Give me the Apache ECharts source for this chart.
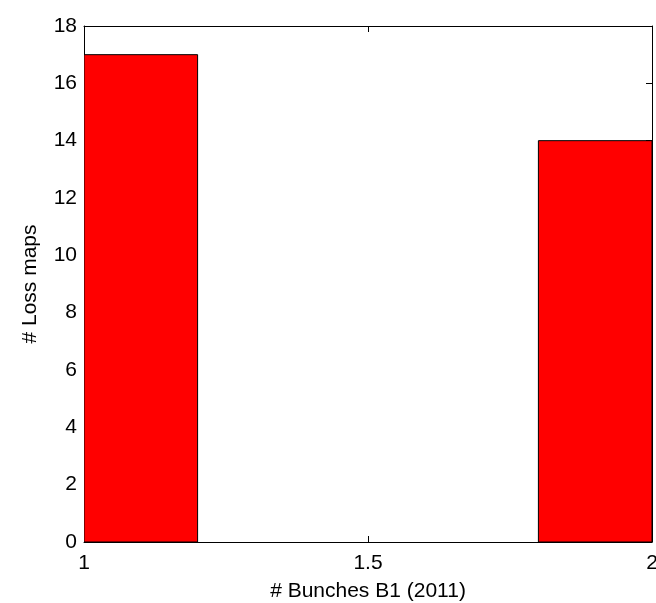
<!DOCTYPE html>
<html>
<head>
<meta charset="utf-8">
<script src="https://cdn.jsdelivr.net/npm/echarts@6/dist/echarts.min.js"></script>
<style>
html,body{margin:0;padding:0;background:#fff;}
#chart{width:656px;height:603px;}
</style>
</head>
<body>
<div id="chart"></div>
<script>
// Histogram bins (centers), counts, and bin width
var binCenters = [1.1, 1.3, 1.5, 1.7, 1.9];
var counts = [17, 0, 0, 0, 14];
var binWidth = 0.2;
var xTicks = [1, 1.5, 2];
var yTicks = [0, 2, 4, 6, 8, 10, 12, 14, 16, 18];

var FONT = 'Liberation Sans, Arial, Helvetica, sans-serif';
var data = binCenters.map(function (c, i) { return [c, counts[i]]; });

var chart = echarts.init(document.getElementById('chart'), null, {renderer: 'canvas'});
var tickInside = {show: true, inside: true, length: 6, lineStyle: {color: '#000', width: 1}};
var option = {
  animation: false,
  backgroundColor: '#fff',
  grid: {left: 84, top: 26, right: 4, bottom: 61, show: false, containLabel: false, outerBoundsMode: 'none'},
  xAxis: [{
    type: 'value', min: xTicks[0], max: xTicks[xTicks.length - 1], interval: 0.5,
    position: 'bottom',
    name: '# Bunches B1 (2011)', nameLocation: 'middle', nameGap: 39,
    nameTextStyle: {fontFamily: FONT, fontSize: 21, color: '#000'},
    axisLine: {show: true, onZero: false, lineStyle: {color: '#000', width: 1}},
    axisTick: tickInside,
    axisLabel: {fontFamily: FONT, fontSize: 21, color: '#000', margin: 11,
      formatter: function (v) { return String(v); }},
    splitLine: {show: false}
  }, {
    type: 'value', min: xTicks[0], max: xTicks[xTicks.length - 1], interval: 0.5,
    position: 'top',
    axisLine: {show: true, onZero: false, lineStyle: {color: '#000', width: 1}},
    axisTick: tickInside,
    axisLabel: {show: false},
    splitLine: {show: false}
  }],
  yAxis: [{
    type: 'value', min: yTicks[0], max: yTicks[yTicks.length - 1], interval: 2,
    position: 'left',
    name: '# Loss maps', nameLocation: 'middle', nameGap: 43,
    nameTextStyle: {fontFamily: FONT, fontSize: 21, color: '#000'},
    axisLine: {show: true, onZero: false, lineStyle: {color: '#000', width: 1}},
    axisTick: tickInside,
    axisLabel: {fontFamily: FONT, fontSize: 21, color: '#000', margin: 7},
    splitLine: {show: false}
  }, {
    type: 'value', min: yTicks[0], max: yTicks[yTicks.length - 1], interval: 2,
    position: 'right',
    axisLine: {show: true, onZero: false, lineStyle: {color: '#000', width: 1}},
    axisTick: tickInside,
    axisLabel: {show: false},
    splitLine: {show: false}
  }],
  series: [{
    type: 'custom',
    xAxisIndex: 0, yAxisIndex: 0,
    data: data,
    clip: true,
    z: 1,
    renderItem: function (params, api) {
      var c = api.value(0), v = api.value(1);
      if (!v) return null;
      var p1 = api.coord([c - binWidth / 2, v]);
      var p2 = api.coord([c + binWidth / 2, 0]);
      return {
        type: 'rect',
        shape: {x: p1[0], y: p1[1], width: p2[0] - p1[0], height: p2[1] - p1[1]},
        style: {fill: '#ff0000', stroke: '#000', lineWidth: 1}
      };
    }
  }]
};
chart.setOption(option);
</script>
</body>
</html>
